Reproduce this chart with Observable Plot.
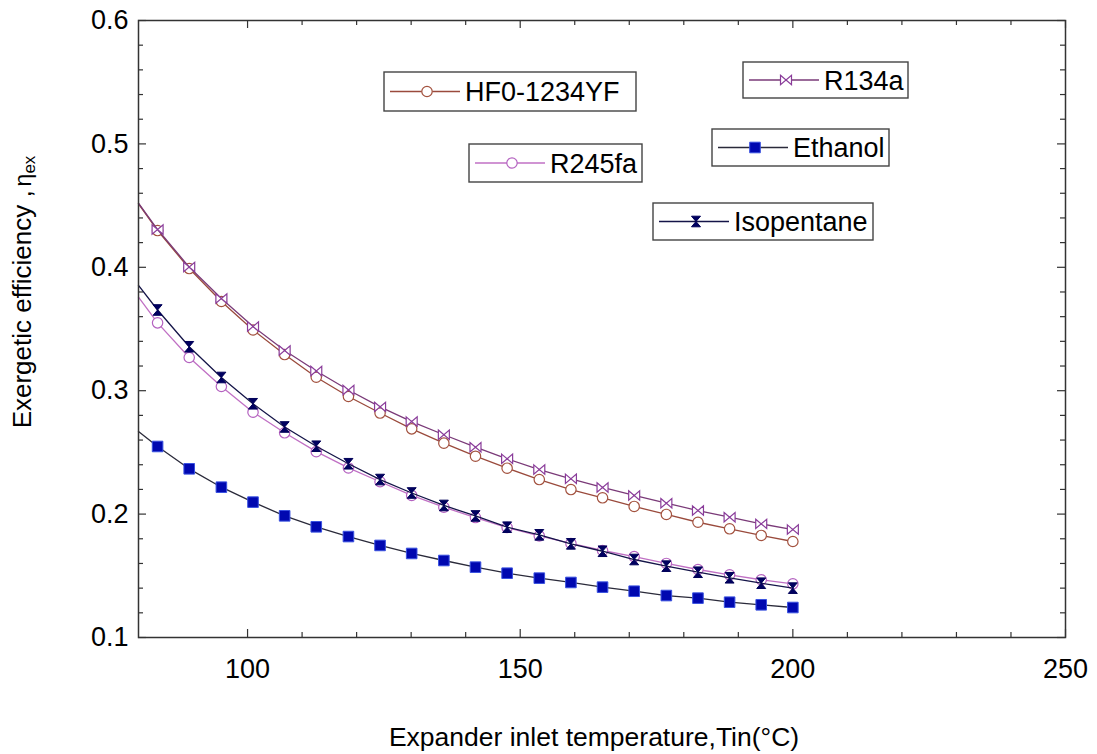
<!DOCTYPE html>
<html><head><meta charset="utf-8">
<script src="https://cdn.jsdelivr.net/npm/d3@7"></script>
<script src="https://cdn.jsdelivr.net/npm/@observablehq/plot@0.6"></script>
<style>
body{margin:0;background:#fff;}
svg{display:block;}
</style>
</head><body><div id="chart"></div>
<script>
// ---------- data ----------
const tempC = [83.5, 89.3, 95.2, 101.0, 106.8, 112.6, 118.5, 124.3, 130.1, 136.0, 141.8,
               147.6, 153.5, 159.3, 165.1, 170.9, 176.8, 182.6, 188.4, 194.2, 200.0];
const hfo1234yf = [0.4298, 0.3990, 0.3723, 0.3492, 0.3293, 0.3109, 0.2953, 0.2819, 0.2691, 0.2575, 0.2469,
                   0.2372, 0.2280, 0.2199, 0.2132, 0.2062, 0.1997, 0.1934, 0.1881, 0.1827, 0.1778];
const r134a = [0.4306, 0.4002, 0.3747, 0.3520, 0.3326, 0.3160, 0.3006, 0.2869, 0.2750, 0.2643, 0.2542,
               0.2448, 0.2361, 0.2286, 0.2216, 0.2151, 0.2088, 0.2029, 0.1975, 0.1921, 0.1875];
const r245fa = [0.3550, 0.3269, 0.3034, 0.2826, 0.2659, 0.2506, 0.2374, 0.2262, 0.2151, 0.2056, 0.1972,
                0.1891, 0.1823, 0.1762, 0.1705, 0.1656, 0.1600, 0.1551, 0.1508, 0.1468, 0.1435];
const ethanol = [0.2548, 0.2367, 0.2218, 0.2097, 0.1986, 0.1897, 0.1818, 0.1746, 0.1681, 0.1624, 0.1570,
                 0.1521, 0.1481, 0.1446, 0.1408, 0.1375, 0.1340, 0.1319, 0.1286, 0.1265, 0.1243];
const isopentane = [0.3654, 0.3356, 0.3107, 0.2894, 0.2706, 0.2550, 0.2408, 0.2280, 0.2171, 0.2070, 0.1985,
                    0.1894, 0.1832, 0.1759, 0.1699, 0.1632, 0.1578, 0.1529, 0.1484, 0.1440, 0.1400];
// where each curve meets the left frame (T = 80)
const lineStartT = 80;
const lineStartValues = [0.4515, 0.4519, 0.3758, 0.2670, 0.3853];
const seriesNames = ["HF0-1234YF", "R134a", "R245fa", "Ethanol", "Isopentane"];
const seriesValues = [hfo1234yf, r134a, r245fa, ethanol, isopentane];
const xMajorTicks = [100, 150, 200, 250];
const xMinorTicks = [110, 120, 130, 140, 160, 170, 180, 190, 210, 220, 230, 240];
const yMajorTicks = [0.1, 0.2, 0.3, 0.4, 0.5, 0.6];
const yMinorTicks = [0.12,0.14,0.16,0.18,0.22,0.24,0.26,0.28,0.32,0.34,0.36,0.38,0.42,0.44,0.46,0.48,0.52,0.54,0.56,0.58];

// ---------- layout ----------
const W = 1097, H = 754;
const mL = 138, mR = 32, mT = 20, mB = 117;
const plotW = W - mL - mR, plotH = H - mT - mB;
const FONT = "'Liberation Sans', Arial, Helvetica, sans-serif";

// custom marker shapes
const bowtie = {draw(ctx, size){ const r = Math.sqrt(size/Math.PI), w = r, h = r*0.85;
  ctx.moveTo(-w,-h); ctx.lineTo(w,h); ctx.lineTo(w,-h); ctx.lineTo(-w,h); ctx.closePath(); }};
const hourglass = {draw(ctx, size){ const r = Math.sqrt(size/Math.PI), w = r*0.85, h = r;
  ctx.moveTo(-w,-h); ctx.lineTo(w,-h); ctx.lineTo(-w,h); ctx.lineTo(w,h); ctx.closePath(); }};
const square = {draw(ctx, size){ const r = Math.sqrt(size/Math.PI); ctx.rect(-r,-r,2*r,2*r); }};
const circle = {draw(ctx, size){ const r = Math.sqrt(size/Math.PI); ctx.moveTo(r,0); ctx.arc(0,0,r,0,2*Math.PI); ctx.closePath(); }};

const styles = {
  "HF0-1234YF": {line:"#9a4a3c", stroke:"#a3523f", fill:"#ffffff", symbol:circle, r:5.2, sw:1.2},
  "R134a":      {line:"#7a3a78", stroke:"#8a3c9a", fill:"#ffffff", symbol:bowtie, r:5.5, sw:1.2},
  "R245fa":     {line:"#c070c4", stroke:"#b462c0", fill:"#ffffff", symbol:circle, r:5.2, sw:1.2},
  "Ethanol":    {line:"#2a2a3a", stroke:"#3a52e0", fill:"#0008b0", symbol:square, r:5.3, sw:1},
  "Isopentane": {line:"#141448", stroke:"#000058", fill:"#000060", symbol:hourglass, r:5.3, sw:1}
};

const rows = [];
seriesNames.forEach((name, s) => {
  rows.push({series:name, T:lineStartT, eta:lineStartValues[s], marker:false});
  tempC.forEach((t, i) => rows.push({series:name, T:t, eta:seriesValues[s][i], marker:true}));
});

const drawOrder = ["Ethanol", "HF0-1234YF", "R134a", "R245fa", "Isopentane"];
const seriesMarks = drawOrder.flatMap(name => {
  const st = styles[name];
  return [
    Plot.line(rows.filter(d => d.series === name), {x:"T", y:"eta", stroke:st.line, strokeWidth:1.3}),
    Plot.dot(rows.filter(d => d.series === name && d.marker),
      {x:"T", y:"eta", symbol:st.symbol, r:st.r, fill:st.fill, stroke:st.stroke, strokeWidth:st.sw})
  ];
});

const tickColor = "#333";
const chart = Plot.plot({
  width: W, height: H,
  marginLeft: mL, marginRight: mR, marginTop: mT, marginBottom: mB,
  style: {fontFamily: FONT, color: "#000", background: "#fff", overflow: "visible"},
  x: {domain: [80, 250]},
  y: {domain: [0.1, 0.6]},
  marks: [
    // inward ticks on all four sides
    Plot.tickX(xMajorTicks, {x: d => d, insetTop: plotH - 8, stroke: tickColor, strokeWidth: 1.2}),
    Plot.tickX(xMajorTicks, {x: d => d, insetBottom: plotH - 8, stroke: tickColor, strokeWidth: 1.2}),
    Plot.tickX(xMinorTicks, {x: d => d, insetTop: plotH - 5, stroke: tickColor, strokeWidth: 1.2}),
    Plot.tickX(xMinorTicks, {x: d => d, insetBottom: plotH - 5, stroke: tickColor, strokeWidth: 1.2}),
    Plot.tickY(yMajorTicks, {y: d => d, insetRight: plotW - 8, stroke: tickColor, strokeWidth: 1.2}),
    Plot.tickY(yMajorTicks, {y: d => d, insetLeft: plotW - 8, stroke: tickColor, strokeWidth: 1.2}),
    Plot.tickY(yMinorTicks, {y: d => d, insetRight: plotW - 5, stroke: tickColor, strokeWidth: 1.2}),
    Plot.tickY(yMinorTicks, {y: d => d, insetLeft: plotW - 5, stroke: tickColor, strokeWidth: 1.2}),
    Plot.axisX({ticks: xMajorTicks, tickSize: 0, tickPadding: 21, fontSize: 27, label: null, tickFormat: d => String(d)}),
    Plot.axisY({ticks: yMajorTicks, tickSize: 0, tickPadding: 10, fontSize: 27, label: null, tickFormat: d => d.toFixed(1)}),
    ...seriesMarks,
    Plot.frame({stroke: tickColor, strokeWidth: 1.5})
  ]
});
document.getElementById("chart").appendChild(chart);

// ---------- axis titles & boxed legends ----------
const svg = d3.select(chart);
svg.append("text")
  .attr("x", 594).attr("y", 746)
  .attr("text-anchor", "middle").attr("font-family", FONT).attr("font-size", 26.5).attr("fill", "#000")
  .text("Expander inlet temperature,Tin(°C)");

const yt = svg.append("text")
  .attr("transform", "translate(31,292) rotate(-90)")
  .attr("text-anchor", "middle").attr("font-family", FONT).attr("font-size", 26).attr("fill", "#000");
yt.append("tspan").text("Exergetic efficiency ,");
yt.append("tspan").attr("font-size", 23).attr("dx", 4).text("η");
yt.append("tspan").attr("font-size", 17).attr("dy", 4).text("ex");

const legendBoxes = [
  {name:"HF0-1234YF", x:384, y:72,  w:252, h:39},
  {name:"R134a",      x:743, y:62,  w:165, h:36},
  {name:"R245fa",     x:469, y:144, w:173, h:38},
  {name:"Ethanol",    x:712, y:129, w:177, h:37},
  {name:"Isopentane", x:653, y:203, w:220, h:37}
];
legendBoxes.forEach(b => {
  const st = styles[b.name];
  const g = svg.append("g");
  const cy = b.y + b.h / 2;
  g.append("rect").attr("x", b.x).attr("y", b.y).attr("width", b.w).attr("height", b.h)
    .attr("fill", "#fff").attr("stroke", "#444").attr("stroke-width", 1.4);
  g.append("line").attr("x1", b.x + 6).attr("x2", b.x + 76).attr("y1", cy).attr("y2", cy)
    .attr("stroke", st.line).attr("stroke-width", 1.3);
  g.append("path").attr("transform", `translate(${b.x + 43},${cy})`)
    .attr("d", d3.symbol(st.symbol, st.r * st.r * Math.PI)())
    .attr("fill", st.fill).attr("stroke", st.stroke).attr("stroke-width", st.sw);
  g.append("text").attr("x", b.x + 81).attr("y", cy).attr("dy", "0.36em")
    .attr("text-anchor", "start")
    .attr("font-family", FONT).attr("font-size", 27).attr("fill", "#000").text(b.name);
});
</script>
</body></html>
